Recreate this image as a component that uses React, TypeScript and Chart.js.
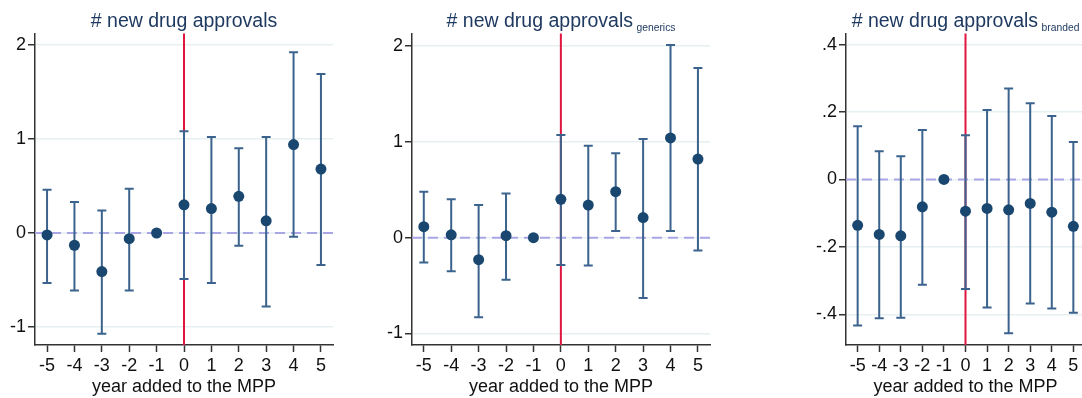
import React, { useEffect, useRef } from "react";
import { Chart, registerables } from "chart.js";

Chart.register(...registerables);

// ---------- data ----------
const YEARS = [-5, -4, -3, -2, -1, 0, 1, 2, 3, 4, 5];

const ALL_EST = [-0.02, -0.13, -0.41, -0.06, 0, 0.30, 0.26, 0.39, 0.13, 0.94, 0.68];
const ALL_LO = [-0.53, -0.61, -1.07, -0.61, 0, -0.49, -0.53, -0.135, -0.78, -0.04, -0.34];
const ALL_HI = [0.46, 0.33, 0.24, 0.47, 0, 1.08, 1.02, 0.90, 1.02, 1.92, 1.69];

const GEN_EST = [0.115, 0.03, -0.23, 0.02, 0, 0.40, 0.34, 0.48, 0.21, 1.04, 0.82];
const GEN_LO = [-0.26, -0.35, -0.83, -0.44, 0, -0.285, -0.29, 0.07, -0.63, 0.07, -0.135];
const GEN_HI = [0.48, 0.40, 0.34, 0.46, 0, 1.07, 0.96, 0.88, 1.03, 2.01, 1.77];

const BR_EST = [-0.136, -0.163, -0.167, -0.081, 0, -0.094, -0.086, -0.09, -0.071, -0.097, -0.139];
const BR_LO = [-0.433, -0.412, -0.41, -0.312, 0, -0.325, -0.38, -0.456, -0.368, -0.383, -0.395];
const BR_HI = [0.158, 0.084, 0.069, 0.147, 0, 0.131, 0.206, 0.27, 0.226, 0.188, 0.111];

const Y_TICKS_COUNT = [-1, 0, 1, 2];
const Y_LABELS_COUNT = ["-1", "0", "1", "2"];
const Y_TICKS_BR = [-0.4, -0.2, 0, 0.2, 0.4];
const Y_LABELS_BR = ["-.4", "-.2", "0", ".2", ".4"];

const TITLE_MAIN = "# new drug approvals";
const TITLE_SUBS = ["", "generics", "branded"];
const X_TITLE = "year added to the MPP";

// ---------- styles ----------
const FONT = '"Liberation Sans", Arial, Helvetica, sans-serif';
const NAVY = "#1a476f";
const BAR = "#3b638d";
const TITLE_COLOR = "#1f3a60";
const AXIS = "#333333";
const RED = "#e0163f";
const DASH = "#aaa6e6";
const GRID = "#e6eff1";

type Panel = {
  est: number[];
  lo: number[];
  hi: number[];
  sub: string;
  yTicks: number[];
  yLabels: string[];
  xMin: number;
  xMax: number;
  yMin: number;
  yMax: number;
  left: number;
  width: number;
  yW: number;
};

const PANELS: Panel[] = [
  { est: ALL_EST, lo: ALL_LO, hi: ALL_HI, sub: TITLE_SUBS[0], yTicks: Y_TICKS_COUNT, yLabels: Y_LABELS_COUNT,
    xMin: -5.44, xMax: 5.44, yMin: -1.19, yMax: 2.12, left: 0, width: 345, yW: 35 },
  { est: GEN_EST, lo: GEN_LO, hi: GEN_HI, sub: TITLE_SUBS[1], yTicks: Y_TICKS_COUNT, yLabels: Y_LABELS_COUNT,
    xMin: -5.43, xMax: 5.44, yMin: -1.12, yMax: 2.13, left: 377, width: 345, yW: 35 },
  { est: BR_EST, lo: BR_LO, hi: BR_HI, sub: TITLE_SUBS[2], yTicks: Y_TICKS_BR, yLabels: Y_LABELS_BR,
    xMin: -5.54, xMax: 5.54, yMin: -0.491, yMax: 0.433, left: 806, width: 291, yW: 40 },
];

function PanelChart({ p }: { p: Panel }) {
  const ref = useRef<HTMLCanvasElement | null>(null);
  useEffect(() => {
    if (!ref.current) return;
    const overlay = {
      id: "overlay",
      beforeDatasetsDraw(chart: any) {
        const { ctx, chartArea } = chart;
        const xs = chart.scales.x;
        const ys = chart.scales.y;
        ctx.save();
        // red vertical line at 0
        const x0 = xs.getPixelForValue(0);
        ctx.strokeStyle = RED;
        ctx.lineWidth = 2;
        ctx.beginPath();
        ctx.moveTo(x0, chartArea.top);
        ctx.lineTo(x0, chartArea.bottom);
        ctx.stroke();
        // dashed zero line
        const y0 = ys.getPixelForValue(0);
        ctx.strokeStyle = DASH;
        ctx.lineWidth = 2;
        ctx.setLineDash([10, 6]);
        ctx.beginPath();
        ctx.moveTo(chartArea.left, y0);
        ctx.lineTo(chartArea.right, y0);
        ctx.stroke();
        ctx.setLineDash([]);
        // error bars
        ctx.strokeStyle = BAR;
        ctx.lineWidth = 2;
        YEARS.forEach((yr, i) => {
          if (p.lo[i] === p.hi[i]) return;
          const x = xs.getPixelForValue(yr);
          const yl = ys.getPixelForValue(p.lo[i]);
          const yh = ys.getPixelForValue(p.hi[i]);
          ctx.beginPath();
          ctx.moveTo(x, yl);
          ctx.lineTo(x, yh);
          ctx.moveTo(x - 4.5, yl);
          ctx.lineTo(x + 4.5, yl);
          ctx.moveTo(x - 4.5, yh);
          ctx.lineTo(x + 4.5, yh);
          ctx.stroke();
        });
        ctx.restore();
      },
      afterDraw(chart: any) {
        const { ctx, chartArea } = chart;
        ctx.save();
        const cx = (chartArea.left + chartArea.right) / 2;
        ctx.font = `19.5px ${FONT}`;
        const wm = ctx.measureText(TITLE_MAIN).width;
        let ws = 0;
        const gap = p.sub ? 3.5 : 0;
        if (p.sub) {
          ctx.font = `10.3px ${FONT}`;
          ws = ctx.measureText(p.sub).width;
        }
        const start = cx - (wm + gap + ws) / 2;
        ctx.fillStyle = TITLE_COLOR;
        ctx.textBaseline = "alphabetic";
        ctx.textAlign = "left";
        ctx.font = `19.5px ${FONT}`;
        ctx.fillText(TITLE_MAIN, start, 26.5);
        if (p.sub) {
          ctx.font = `10.3px ${FONT}`;
          ctx.fillText(p.sub, start + wm + gap, 30.5);
        }
        ctx.restore();
      },
    };

    const chart = new Chart(ref.current, {
      type: "scatter",
      data: {
        datasets: [
          {
            data: YEARS.map((x, i) => ({ x, y: p.est[i] })),
            pointRadius: 5.5,
            pointHoverRadius: 5.5,
            pointBackgroundColor: NAVY,
            pointBorderColor: NAVY,
            pointBorderWidth: 0,
            showLine: false,
          },
        ],
      },
      options: {
        animation: false,
        responsive: false,
        maintainAspectRatio: false,
        events: [],
        layout: { padding: { top: 33.5, right: 12, left: 0, bottom: 0 } },
        plugins: {
          legend: { display: false },
          tooltip: { enabled: false },
          title: { display: false },
        },
        scales: {
          x: {
            type: "linear",
            min: p.xMin,
            max: p.xMax,
            afterBuildTicks: (s: any) => {
              s.ticks = YEARS.map((v) => ({ value: v }));
            },
            afterFit: (s: any) => {
              s.height = 53;
            },
            ticks: {
              autoSkip: false,
              maxRotation: 0,
              padding: 3,
              color: "#111",
              font: { family: FONT, size: 18 },
              callback: (v: any) => String(v),
            },
            grid: {
              drawOnChartArea: false,
              drawTicks: true,
              tickLength: 7,
              tickColor: AXIS,
              tickWidth: 1.5,
            },
            border: { color: AXIS, width: 1.5 },
            title: {
              display: true,
              text: X_TITLE,
              color: "#111",
              font: { family: FONT, size: 18 },
              padding: { top: 0, bottom: 0 },
            },
          },
          y: {
            type: "linear",
            min: p.yMin,
            max: p.yMax,
            afterBuildTicks: (s: any) => {
              s.ticks = p.yTicks.map((v) => ({ value: v }));
            },
            afterFit: (s: any) => {
              s.width = p.yW;
            },
            ticks: {
              autoSkip: false,
              padding: 2,
              color: "#111",
              font: { family: FONT, size: 18 },
              callback: (v: any) => {
                const idx = p.yTicks.findIndex((t) => Math.abs(t - v) < 1e-9);
                return idx >= 0 ? p.yLabels[idx] : "";
              },
            },
            grid: {
              color: GRID,
              lineWidth: 1.5,
              drawTicks: true,
              tickLength: 7,
              tickColor: AXIS,
              tickWidth: 1.5,
            },
            border: { color: AXIS, width: 1.5 },
          },
        },
      },
      plugins: [overlay],
    } as any);
    return () => chart.destroy();
  }, [p]);

  return (
    <canvas
      ref={ref}
      width={p.width}
      height={398}
      style={{ position: "absolute", left: p.left, top: 0, width: p.width, height: 398 }}
    />
  );
}

export default function App() {
  return (
    <div
      style={{
        position: "absolute",
        left: 0,
        top: 0,
        width: 1082,
        height: 398,
        overflow: "hidden",
        background: "#ffffff",
      }}
    >
      {PANELS.map((p, i) => (
        <PanelChart key={i} p={p} />
      ))}
    </div>
  );
}
